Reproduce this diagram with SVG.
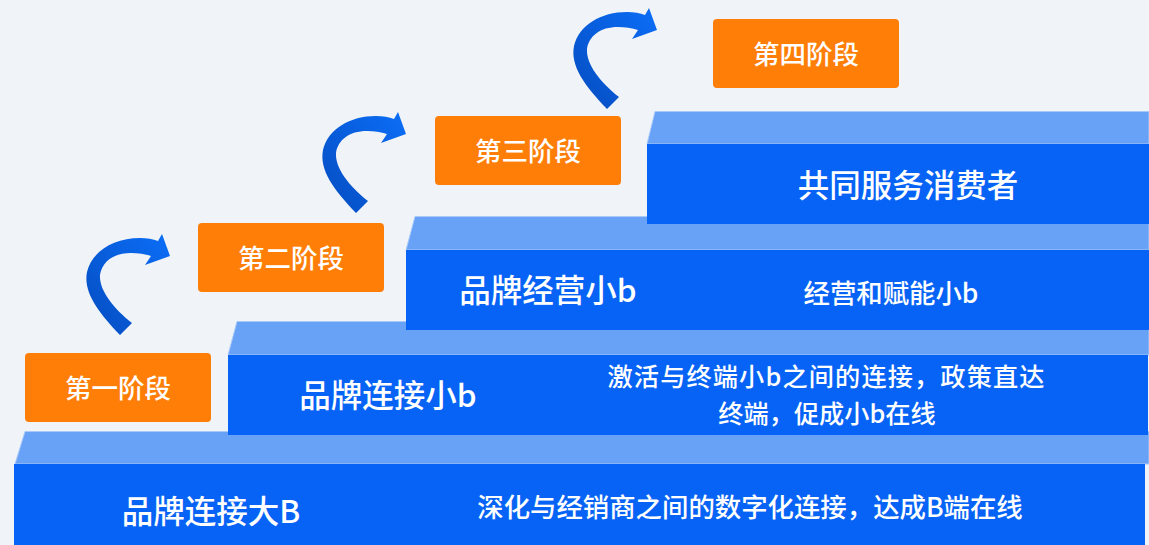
<svg xmlns="http://www.w3.org/2000/svg" width="1149" height="545" viewBox="0 0 1149 545">
<defs>
<linearGradient id="ag" x1="1" y1="0" x2="0" y2="1">
<stop offset="0" stop-color="#0b6ef7"/>
<stop offset="1" stop-color="#054cc0"/>
</linearGradient>
<path id="arrow" d="M120,335 C98,312 83,292 87,272 C92,251 114,238 140,238 C147,238 153,239 158,241 L162,234 L170,256 L145,265 L151,256 C145,254 138,253 131,253 C113,253 102,262 100,275 C99,290 113,308 132,323 Z" fill="url(#ag)"/>
</defs>
<style>
.top{fill:#68a2f7;stroke:#a9c9f9;stroke-width:1}
.front{fill:#0763f5}
.box{fill:#ff7e07}
.t{font-family:"Noto Sans CJK SC","Noto Sans",sans-serif;font-weight:500;fill:#ffffff;text-anchor:middle;dominant-baseline:central}
.title{font-size:31.5px}
.desc{font-size:26.4px}
.desc2{font-size:25.2px}
.lbl{font-size:26.5px}
</style>
<rect x="0" y="0" width="1149" height="545" fill="#f0f4f8"/>
<g id="step1">
<polygon class="top" points="25,431.5 1149,431.5 1149,464 15,464"/>
<rect class="front" x="14" y="464" width="1131" height="81"/>
<text class="t title" x="211" y="509">品牌连接大B</text>
<text class="t desc" x="750" y="505">深化与经销商之间的数字化连接，达成B端在线</text>
</g>
<g id="step2">
<polygon class="top" points="237,321.5 1149,321.5 1149,355 228,355"/>
<rect class="front" x="228" y="355" width="920" height="80"/>
<text class="t title" x="388" y="393">品牌连接小b</text>
<text class="t desc2" x="826" y="375" textLength="437" lengthAdjust="spacing">激活与终端小b之间的连接，政策直达</text>
<text class="t desc2" x="827" y="411.5">终端，促成小b在线</text>
</g>
<g id="step3">
<polygon class="top" points="415,216.5 1149,216.5 1149,250 406,250"/>
<rect class="front" x="406" y="250" width="743" height="80"/>
<text class="t title" x="548" y="288">品牌经营小b</text>
<text class="t desc" x="891" y="291">经营和赋能小b</text>
</g>
<g id="step4">
<polygon class="top" points="655,111.5 1149,111.5 1149,144 647,144"/>
<rect class="front" x="647" y="144" width="502" height="80"/>
<text class="t title" x="908" y="183">共同服务消费者</text>
</g>
<g id="stage1">
<rect class="box" x="25" y="353" width="186" height="69" rx="4"/>
<text class="t lbl" x="118" y="386">第一阶段</text>
</g>
<g id="stage2">
<rect class="box" x="198" y="223" width="186" height="69" rx="4"/>
<text class="t lbl" x="291" y="256">第二阶段</text>
</g>
<g id="stage3">
<rect class="box" x="435" y="116" width="186" height="69" rx="4"/>
<text class="t lbl" x="528" y="149">第三阶段</text>
</g>
<g id="stage4">
<rect class="box" x="713" y="19" width="186" height="69" rx="4"/>
<text class="t lbl" x="806" y="52">第四阶段</text>
</g>
<g id="connectors">
<use href="#arrow"/>
<use href="#arrow" transform="translate(236,-122)"/>
<use href="#arrow" transform="translate(487,-226)"/>
</g>
</svg>
